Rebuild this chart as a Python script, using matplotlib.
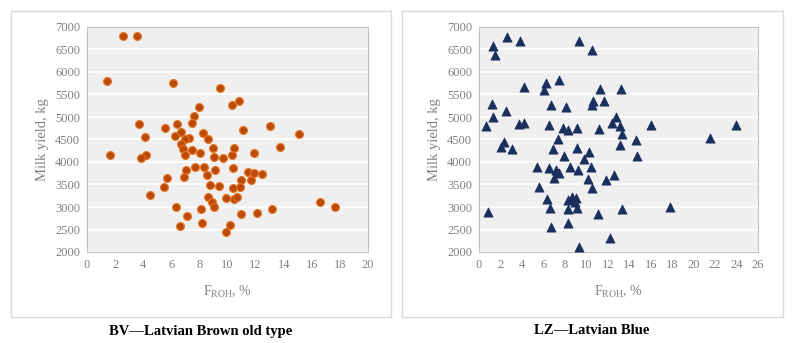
import matplotlib.pyplot as plt
from matplotlib.patches import Rectangle

plt.rcParams['font.family'] = ['Liberation Serif', 'DejaVu Serif']

# BV - Latvian Brown old type
bv_froh = [2.54, 3.56, 1.42, 1.61, 6.14, 9.44, 7.97, 7.62, 7.45, 10.32, 10.79, 3.70,
           5.58, 6.43, 6.29, 6.67, 4.15, 7.28, 6.97, 6.71, 6.81, 6.95, 7.50, 8.28,
           8.59, 8.07, 8.99, 9.01, 9.68, 10.30, 10.46, 11.08, 13.0, 15.11, 13.74, 11.86,
           4.22, 3.87, 7.02, 7.69, 8.33, 9.11, 8.56, 10.37, 5.67, 6.88, 5.50, 8.75,
           9.40, 10.39, 10.98, 10.91, 11.48, 11.65, 11.89, 12.46, 4.51, 8.59, 8.90, 9.87,
           10.46, 10.65, 9.04, 6.31, 8.11, 7.14, 8.19, 6.60, 10.15, 9.89, 10.94, 12.08,
           13.17, 16.56, 17.67]
bv_milk = [6793, 6793, 5796, 4149, 5752, 5648, 5213, 5021, 4858, 5264, 5345, 4851,
           4747, 4843, 4577, 4666, 4555, 4526, 4503, 4400, 4289, 4156, 4275, 4637,
           4511, 4208, 4319, 4112, 4083, 4156, 4319, 4718, 4799, 4622, 4341, 4193,
           4164, 4090, 3831, 3883, 3898, 3831, 3706, 3876, 3646, 3661, 3447, 3499,
           3477, 3425, 3595, 3455, 3787, 3602, 3765, 3728, 3263, 3218, 3115, 3196,
           3181, 3233, 2989, 2989, 2952, 2790, 2650, 2568, 2591, 2450, 2849, 2871,
           2960, 3122, 3011]

# LZ - Latvian Blue
lz_froh = [2.61, 3.82, 9.32, 10.50, 1.27, 1.49, 7.46, 6.24, 6.09, 4.19, 11.25, 13.20,
           1.21, 2.52, 1.27, 0.62, 3.76, 4.22, 6.71, 8.08, 10.62, 10.50, 11.62, 6.55,
           7.80, 8.33, 9.10, 11.19, 12.40, 12.77, 13.14, 13.33, 15.99, 23.95, 21.50, 14.66,
           14.73, 13.11, 7.36, 2.30, 2.08, 3.11, 6.93, 9.10, 7.95, 10.22, 9.82, 5.37,
           6.55, 7.15, 7.43, 6.99, 8.45, 9.23, 10.47, 10.13, 10.53, 11.80, 12.61, 5.59,
           6.34, 6.65, 6.68, 8.26, 8.26, 8.70, 9.01, 8.92, 9.10, 8.26, 11.06, 13.30,
           17.83, 0.81, 12.21, 9.32]
lz_milk = [6778, 6682, 6682, 6483, 6572, 6387, 5818, 5752, 5611, 5656, 5619, 5626,
           5286, 5139, 4991, 4807, 4836, 4866, 5264, 5213, 5345, 5257, 5360, 4829,
           4762, 4703, 4762, 4725, 4858, 4991, 4799, 4614, 4821, 4821, 4540, 4489,
           4142, 4386, 4518, 4437, 4341, 4297, 4282, 4304, 4134, 4230, 4068, 3898,
           3861, 3824, 3765, 3646, 3883, 3824, 3898, 3624, 3432, 3602, 3720, 3454,
           3181, 2967, 2561, 2960, 3159, 3218, 3204, 3115, 2975, 2635, 2849, 2960,
           3011, 2878, 2303, 2111]

W, H = 792, 343
fig = plt.figure(figsize=(W / 100, H / 100), dpi=100)

def px(x0, y0, x1, y1):
    return [x0 / W, 1 - y1 / H, (x1 - x0) / W, (y1 - y0) / H]

# outer chart frames
for x0, x1 in [(11, 391), (402, 783)]:
    fig.patches.append(Rectangle((x0 / W, 1 - 317 / H), (x1 - x0) / W, (317 - 11) / H,
                                 transform=fig.transFigure, fill=False,
                                 edgecolor='#d9d9d9', linewidth=1))

grey = '#808080'

def style(ax, xmax, xstep):
    ax.set_facecolor('#efefef')
    ax.set_xlim(0, xmax)
    ax.set_ylim(2000, 7000)
    ax.set_xticks(range(0, xmax + 1, xstep))
    ax.set_yticks(range(2000, 7001, 500))
    ax.yaxis.grid(True, color='white', linewidth=1.2)
    ax.set_axisbelow(True)
    for s in ax.spines.values():
        s.set_color('#c0c0c0')
        s.set_linewidth(0.8)
    ax.tick_params(length=0, labelsize=9, colors=grey, pad=5)
    ax.set_xlabel(r'F$_{\mathregular{ROH}}$, %', color=grey, fontsize=10, labelpad=9)
    ax.set_ylabel('Milk yield, kg', color=grey, fontsize=10.5, labelpad=4)

ax1 = fig.add_axes(px(87, 27, 368, 252))
style(ax1, 20, 2)
ax1.scatter(bv_froh, bv_milk, s=32, marker='o', color='#b94a0c',
            edgecolors='#e8731e', linewidths=0.8, zorder=3)

ax2 = fig.add_axes(px(479, 27, 758, 252))
style(ax2, 26, 2)
ax2.scatter(lz_froh, lz_milk, s=44, marker='^', color='#1a2f5e',
            edgecolors='#1a2f5e', linewidths=0.5, zorder=3)

fig.text(201 / W, 1 - 331 / H, 'BV\u2014Latvian Brown old type', ha='center', va='center',
         fontsize=10.5, fontweight='bold')
fig.text(592 / W, 1 - 331 / H, 'LZ\u2014Latvian Blue', ha='center', va='center',
         fontsize=10.5, fontweight='bold')

fig.savefig('out.png', dpi=100)
